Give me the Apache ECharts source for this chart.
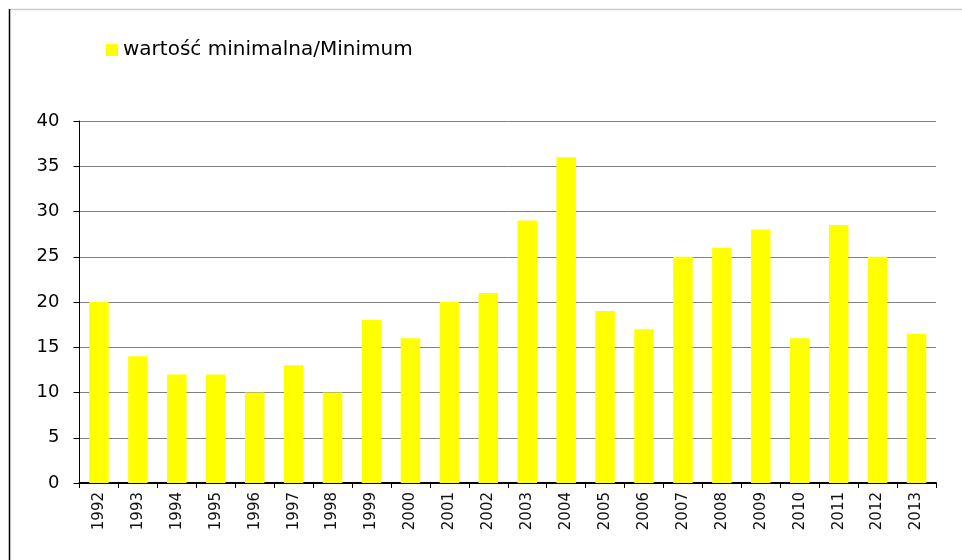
<!DOCTYPE html>
<html>
<head>
<meta charset="utf-8">
<script src="https://cdn.jsdelivr.net/npm/echarts@6/dist/echarts.min.js"></script>
<style>
html,body{margin:0;padding:0;background:#fff;}
#chart{width:962px;height:560px;}
</style>
</head>
<body>
<div id="chart"></div>
<script>
const years = ['1992','1993','1994','1995','1996','1997','1998','1999','2000','2001','2002','2003','2004','2005','2006','2007','2008','2009','2010','2011','2012','2013'];
const minimumValues = [20,14,12,12,10,13,10,18,16,20,21,29,36,19,17,25,26,28,16,28.5,25,16.5];
const seriesName = 'wartość minimalna/Minimum';
const yTicks = [0,5,10,15,20,25,30,35,40];

const chart = echarts.init(document.getElementById('chart'), null, {renderer:'canvas'});
chart.setOption({
  animation: false,
  backgroundColor: '#ffffff',
  textStyle: {fontFamily: 'DejaVu Sans'},
  graphic: [
    {type:'line', shape:{x1:9, y1:9.5, x2:962, y2:9.5}, style:{stroke:'#cccccc', lineWidth:1.5}, silent:true},
    {type:'line', shape:{x1:9.5, y1:9, x2:9.5, y2:560}, style:{stroke:'#000000', lineWidth:1.5}, silent:true}
  ],
  legend: {
    show: true,
    left: 106,
    top: 40,
    padding: 0,
    icon: 'rect',
    itemWidth: 12,
    itemHeight: 12,
    itemGap: 10,
    textStyle: {fontFamily:'DejaVu Sans', fontSize: 20, color:'#000000', lineHeight: 20},
    data: [seriesName]
  },
  grid: {left: 79.5, right: 26, top: 121, bottom: 77, containLabel: false},
  xAxis: {
    type: 'category',
    data: years,
    boundaryGap: true,
    axisLine: {show:true, lineStyle:{color:'#000000', width:2}},
    axisTick: {show:true, alignWithLabel:false, length:5, lineStyle:{color:'#000000', width:1}},
    axisLabel: {rotate: 90, margin: 9, fontFamily:'DejaVu Sans', fontSize: 15, color:'#111111', interval: 0}
  },
  yAxis: {
    type: 'value',
    min: yTicks[0],
    max: yTicks[yTicks.length-1],
    interval: 5,
    axisLine: {show:true, lineStyle:{color:'#000000', width:1}},
    axisTick: {show:true, length:6, lineStyle:{color:'#000000'}},
    axisLabel: {margin: 20, fontFamily:'DejaVu Sans', fontSize: 18, color:'#000000'},
    splitLine: {show:true, lineStyle:{color:'#808080', width:1}}
  },
  series: [{
    name: seriesName,
    type: 'bar',
    data: minimumValues,
    barWidth: '50%',
    itemStyle: {color:'#FFFF00'}
  }]
});
</script>
</body>
</html>
